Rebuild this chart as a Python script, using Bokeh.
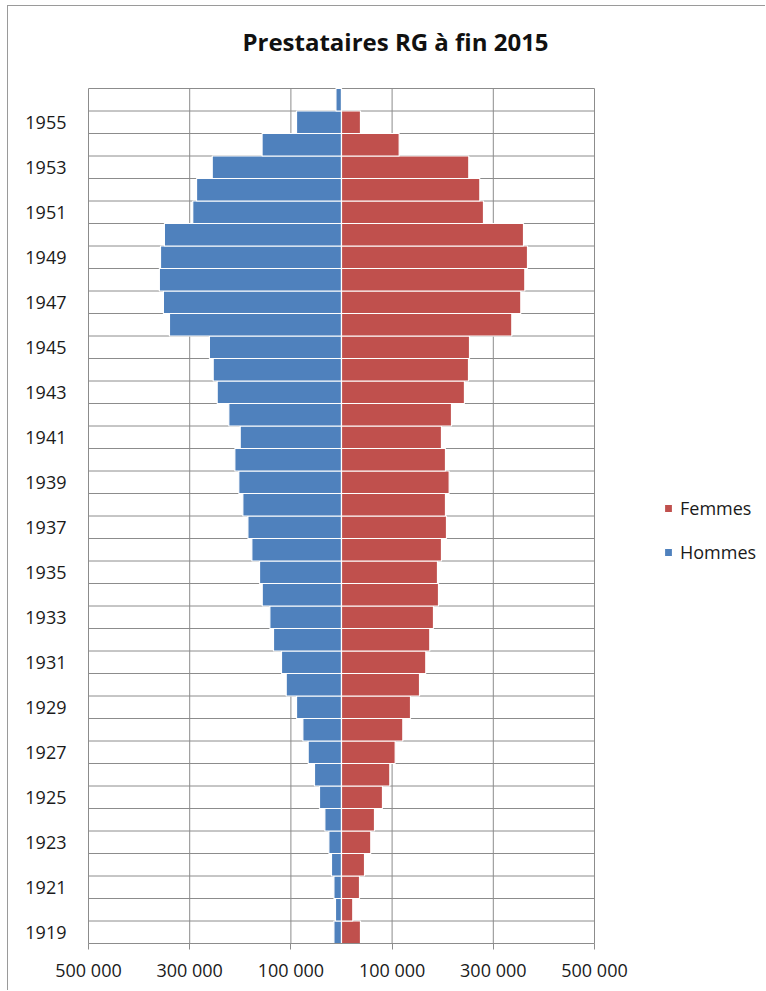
import numpy as np
from bokeh.plotting import figure
from bokeh.models import FixedTicker, Label, Legend, LegendItem, ColumnDataSource, Range1d
from bokeh.embed import file_html
from bokeh.resources import INLINE

title_text = "Prestataires RG à fin 2015"
years = list(range(1919, 1957))
hommes = [15000, 11900, 15000, 19800, 25000, 32900, 43500, 53400, 65900, 76400,
          88900, 109300, 118600, 134400, 141600, 156700, 162000, 177200, 185000, 195000,
          203000, 210800, 200200, 222700, 245700, 253600, 261000, 340000, 352000, 360000,
          357700, 350000, 294000, 286500, 255500, 157000, 88900, 11000]
femmes = [37500, 22300, 35600, 45500, 57900, 65200, 81000, 95500, 106100, 121200,
          136400, 154200, 166600, 174500, 181800, 191700, 189700, 197600, 207500, 205500,
          212800, 205500, 197600, 217400, 243000, 251000, 253000, 336600, 354400, 362300,
          367600, 359700, 280600, 273400, 251600, 114000, 37500, 0]
x_tick_values = [-500000, -300000, -100000, 100000, 300000, 500000]
x_tick_labels = ["500 000", "300 000", "100 000", "100 000", "300 000", "500 000"]
y_tick_years = [y for y in years if y % 2 == 1]

BLUE = "#4F81BD"
RED = "#C0504D"
GRID = "#8C8C8C"
TEXT = "#1a1a1a"
FONT = "Open Sans"

# pixel geometry of the canvas (content area 758 x 985)
CW, CH = 758, 985
F_LEFT, F_BOTTOM = 80, 48          # frame left / bottom margins
PLOT_W = 506                       # pixels for the -500k..500k span
PLOT_H = 855                       # pixels for the year rows
x_lo, x_hi = x_tick_values[0], x_tick_values[-1]
y_lo, y_hi = years[0] - 0.5, years[-1] + 0.5
# extend ranges so that the frame covers the whole canvas right/top (room for title & legend)
x_end = x_hi + (CW - F_LEFT - PLOT_W) * (x_hi - x_lo) / PLOT_W
y_end = y_hi + (CH - F_BOTTOM - PLOT_H) * (y_hi - y_lo) / PLOT_H

src = ColumnDataSource(dict(
    y=years,
    h_left=[-v for v in hommes],
    zero=[0] * len(years),
    f_right=femmes,
))

p = figure(width=CW, height=CH, output_backend="svg", toolbar_location=None,
           x_range=Range1d(x_lo, x_end), y_range=Range1d(y_lo, y_end),
           min_border_left=F_LEFT, min_border_right=0, min_border_top=0,
           min_border_bottom=F_BOTTOM)
p.styles = {"margin-left": "7px", "margin-top": "5px",
            "border-left": "1px solid #9a9a9a", "border-top": "1px solid #9a9a9a"}

p.background_fill_color = "white"
p.border_fill_color = "white"
p.outline_line_color = None
p.grid.visible = False

# grid lines (drawn from the data)
hb = [y - 0.5 for y in years] + [y_hi]
p.segment(x0=[x_lo] * len(hb), x1=[x_hi] * len(hb), y0=hb, y1=hb,
          line_color=GRID, line_width=1)
p.segment(x0=x_tick_values, x1=x_tick_values, y0=[y_lo] * len(x_tick_values),
          y1=[y_hi] * len(x_tick_values), line_color=GRID, line_width=1)

rh = p.hbar(y="y", left="h_left", right="zero", height=1.0, source=src,
            fill_color=BLUE, line_color="white", line_width=1.2)
rf = p.hbar(y="y", left="zero", right="f_right", height=1.0, source=src,
            fill_color=RED, line_color="white", line_width=1.2)

# x axis
p.xaxis.ticker = FixedTicker(ticks=x_tick_values)
p.xaxis.bounds = (x_lo, x_hi)
p.xaxis.major_label_overrides = {v: l for v, l in zip(x_tick_values, x_tick_labels)}
p.xaxis.axis_line_color = GRID
p.xaxis.major_tick_line_color = GRID
p.xaxis.major_tick_out = 6
p.xaxis.major_tick_in = 0
p.xaxis.minor_tick_line_color = None
p.xaxis.major_label_standoff = 8
p.xaxis.major_label_text_font = FONT
p.xaxis.major_label_text_font_size = "18px"
p.xaxis.major_label_text_color = TEXT

# y axis
p.yaxis.ticker = FixedTicker(ticks=y_tick_years)
p.yaxis.bounds = (y_lo, y_hi)
p.yaxis.axis_line_color = GRID
p.yaxis.major_tick_line_color = None
p.yaxis.major_tick_out = 0
p.yaxis.major_tick_in = 0
p.yaxis.minor_tick_line_color = None
p.yaxis.major_label_standoff = 22
p.yaxis.major_label_text_font = FONT
p.yaxis.major_label_text_font_size = "18px"
p.yaxis.major_label_text_color = TEXT

# legend
legend = Legend(items=[LegendItem(label="Femmes", renderers=[rf]),
                       LegendItem(label="Hommes", renderers=[rh])],
                location=(575, 379), orientation="vertical",
                glyph_width=10, glyph_height=10, label_standoff=7,
                spacing=20, padding=0, margin=0, label_height=20,
                label_text_font=FONT, label_text_font_size="18px",
                label_text_color=TEXT,
                border_line_color=None, background_fill_alpha=0)
p.add_layout(legend, "center")

# title
p.add_layout(Label(x=307, y=902, x_units="screen", y_units="screen", text=title_text,
                   text_align="center", text_baseline="middle",
                   text_font=FONT, text_font_style="bold", text_font_size="24px",
                   text_color="#111111"))

open("out.html", "w").write(file_html(p, INLINE))
